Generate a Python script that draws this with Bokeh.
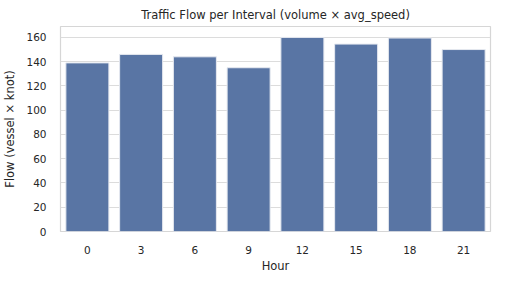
from bokeh.plotting import figure
from bokeh.models import FactorRange, Range1d, SingleIntervalTicker, ColumnDataSource
from bokeh.embed import file_html
from bokeh.resources import INLINE

hours = ["0", "3", "6", "9", "12", "15", "18", "21"]
flow = [139, 146, 144, 135, 160, 154.5, 159.5, 150]

src = ColumnDataSource(data=dict(hour=hours, flow=flow))

p = figure(x_range=FactorRange(*hours), y_range=Range1d(0, 169),
           width=494, height=275, output_backend="svg", toolbar_location=None,
           title="Traffic Flow per Interval (volume × avg_speed)",
           min_border_left=50, min_border_right=4, min_border_bottom=10, min_border_top=4)

p.vbar(x="hour", top="flow", width=0.8, source=src,
       fill_color="#5975a4", line_color="#e6e9f0", line_width=1)

FONT = "DejaVu Sans"
p.title.align = "center"
p.title.text_font = FONT
p.title.text_font_size = "11.5px"
p.title.text_font_style = "normal"
p.title.text_color = "#262626"

p.outline_line_color = "#d6d6d6"
p.outline_line_width = 1.2

p.xgrid.grid_line_color = None
p.ygrid.grid_line_color = "#dcdcdc"
p.ygrid.grid_line_width = 1

p.yaxis.ticker = SingleIntervalTicker(interval=20)
for ax in (p.xaxis[0], p.yaxis[0]):
    ax.axis_line_color = None
    ax.major_tick_line_color = None
    ax.minor_tick_line_color = None
    ax.major_label_text_font = FONT
    ax.major_label_text_font_size = "10.5px"
    ax.major_label_text_color = "#262626"
    ax.axis_label_text_font = FONT
    ax.axis_label_text_font_size = "11.5px"
    ax.axis_label_text_font_style = "normal"
    ax.axis_label_text_color = "#262626"
    ax.major_label_standoff = 8

p.xaxis.axis_label = "Hour"
p.yaxis.axis_label = "Flow (vessel × knot)"
p.xaxis.axis_label_standoff = 2
p.yaxis.axis_label_standoff = 6
p.xaxis.group_text_font_size = "0px"

open("out.html", "w").write(file_html(p, INLINE))
